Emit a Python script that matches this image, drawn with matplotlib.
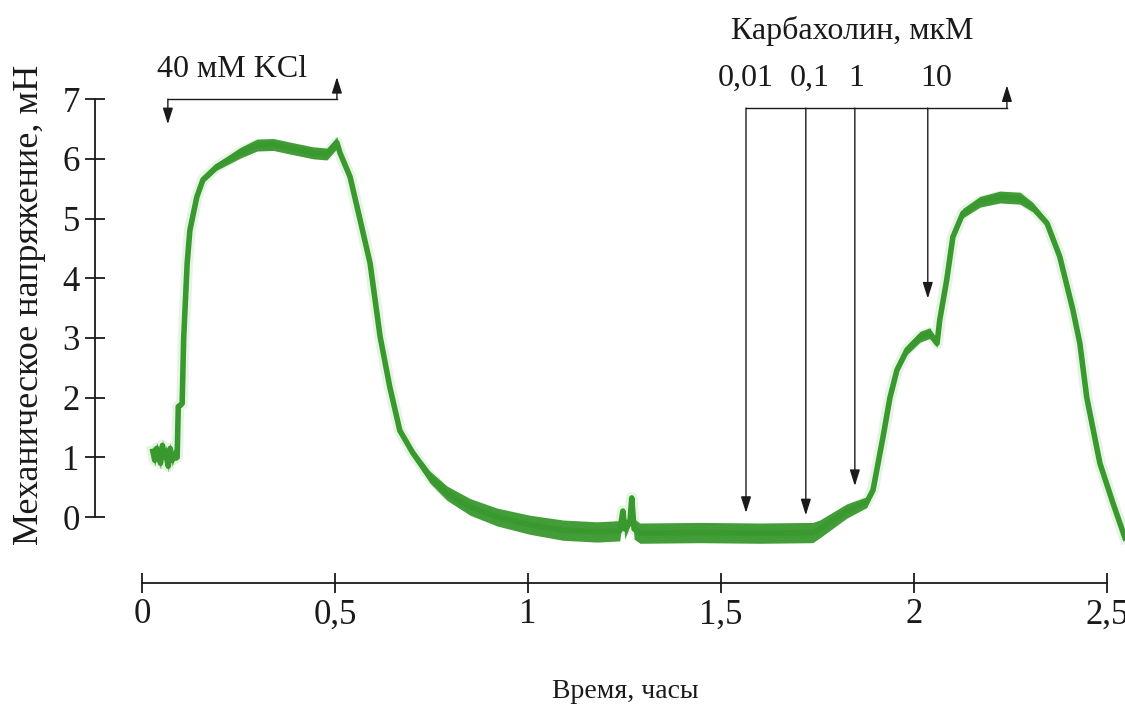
import matplotlib
matplotlib.use("Agg")
import matplotlib.pyplot as plt
import numpy as np

plt.rcParams['font.family'] = ['Liberation Serif', 'DejaVu Serif']

# ---- data (time in hours, tension in mN) ----
time_h = [0.028, 0.033, 0.038, 0.043, 0.048, 0.053, 0.058, 0.063, 0.068, 0.073,
          0.078, 0.083, 0.091, 0.094, 0.104, 0.108, 0.117, 0.124, 0.142, 0.158,
          0.194, 0.254, 0.298, 0.340, 0.383, 0.443, 0.479, 0.505, 0.513, 0.539,
          0.565, 0.591, 0.617, 0.642, 0.668, 0.702, 0.746, 0.790, 0.850, 0.920,
          1.005, 1.091, 1.179, 1.238, 1.246, 1.251, 1.264, 1.269, 1.275, 1.290,
          1.446, 1.601, 1.738, 1.756, 1.826, 1.878, 1.894, 1.920, 1.938, 1.956,
          1.982, 2.016, 2.041, 2.060, 2.067, 2.085, 2.101, 2.127, 2.171, 2.223,
          2.275, 2.308, 2.345, 2.378, 2.412, 2.430, 2.448, 2.482, 2.516, 2.547]
tension = [1.10, 0.95, 1.15, 1.05, 0.90, 1.20, 1.00, 1.10, 0.85, 1.15,
           0.95, 1.05, 1.00, 1.85, 1.90, 3.00, 4.25, 4.80, 5.36, 5.65,
           5.87, 6.10, 6.23, 6.24, 6.18, 6.10, 6.08, 6.27, 6.10, 5.70,
           4.98, 4.25, 3.02, 2.18, 1.45, 1.07, 0.67, 0.40, 0.17, 0.00,
           -0.13, -0.22, -0.25, -0.23, 0.10, -0.20, -0.10, 0.32, -0.20, -0.27,
           -0.26, -0.27, -0.26, -0.20, 0.10, 0.25, 0.45, 1.34, 2.00, 2.46,
           2.80, 3.02, 3.08, 2.91, 3.30, 3.97, 4.69, 5.09, 5.28, 5.36,
           5.34, 5.19, 4.92, 4.36, 3.47, 2.91, 2.00, 0.90, 0.23, -0.35]
# half-thickness of the recorded noise band (mN)
noise = [0.10, 0.10, 0.10, 0.10, 0.10, 0.10, 0.10, 0.10, 0.10, 0.10,
         0.10, 0.10, 0.05, 0.05, 0.05, 0.03, 0.03, 0.03, 0.04, 0.05,
         0.06, 0.09, 0.10, 0.10, 0.10, 0.10, 0.10, 0.10, 0.06, 0.05,
         0.04, 0.04, 0.04, 0.04, 0.05, 0.07, 0.10, 0.12, 0.14, 0.15,
         0.16, 0.17, 0.17, 0.17, 0.04, 0.17, 0.05, 0.04, 0.17, 0.17,
         0.17, 0.17, 0.17, 0.15, 0.12, 0.09, 0.05, 0.04, 0.04, 0.05,
         0.08, 0.09, 0.09, 0.07, 0.04, 0.04, 0.05, 0.08, 0.09, 0.10,
         0.10, 0.08, 0.06, 0.05, 0.04, 0.04, 0.04, 0.04, 0.05, 0.07]

x_ticks = [0, 0.5, 1, 1.5, 2, 2.5]
x_tick_labels = ["0", "0,5", "1", "1,5", "2", "2,5"]
y_ticks = [0, 1, 2, 3, 4, 5, 6, 7]
y_tick_labels = ["0", "1", "2", "3", "4", "5", "6", "7"]

kcl_label = "40 мМ KCl"
kcl_on, kcl_off = 0.067, 0.505
carb_title = "Карбахолин, мкМ"
carb_doses = ["0,01", "0,1", "1", "10"]
carb_times = [1.565, 1.720, 1.847, 2.036]
carb_arrow_tips = [0.07, 0.03, 0.52, 3.66]
carb_washout = 2.241

green = '#39992f'
ink = '#1a1a1a'

fig = plt.figure(figsize=(11.25, 7.19), dpi=100)
ax = fig.add_axes([95 / 1125, 1 - 583 / 719, 1030 / 1125, 583 / 719])
ax.set_xlim(-0.1218, 2.547)
ax.set_ylim(-1.105, 8.66)

t = np.array(time_h)
v = np.array(tension)
n = np.array(noise)
ax.plot(t, v, color='#b8e0b0', lw=8.5, alpha=0.35, zorder=1)
ax.fill_between(t, v - n, v + n, color=green, lw=0, alpha=0.95, zorder=2)
ax.plot(t, v, color=green, lw=4.0, solid_joinstyle='round', zorder=3)

# axes styling
for s in ['top', 'right']:
    ax.spines[s].set_visible(False)
ax.spines['left'].set_bounds(0, 7)
ax.spines['bottom'].set_bounds(0, 2.5)
for s in ['left', 'bottom']:
    ax.spines[s].set_linewidth(1.3)
    ax.spines[s].set_color(ink)
ax.set_xticks(x_ticks)
ax.set_xticklabels(x_tick_labels)
ax.set_yticks(y_ticks)
ax.set_yticklabels(y_tick_labels)
ax.tick_params(axis='both', direction='inout', length=14, width=1.3, color=ink,
               labelsize=25, labelcolor=ink)
ax.tick_params(axis='x', pad=4)
ax.tick_params(axis='y', pad=4)

ax.set_ylabel("Механическое напряжение, мН", fontsize=26, color=ink)
ax.yaxis.set_label_coords(-0.048, 0.477)
fig.text(625 / 1125, 1 - 692 / 719, "Время, часы", fontsize=20, color=ink,
         ha='center', va='center')

# annotations
lw_a = 1.0
astyle = '-|>,head_length=0.7,head_width=0.22'

def arrow(x, y0, y1):
    ax.annotate('', xy=(x, y1), xytext=(x, y0),
                arrowprops=dict(arrowstyle=astyle, color=ink, lw=lw_a,
                                shrinkA=0, shrinkB=0, mutation_scale=14))

# KCl
kcl_y = 7.0
ax.plot([kcl_on, kcl_off], [kcl_y, kcl_y], color=ink, lw=lw_a)
arrow(kcl_on, kcl_y, 6.58)
arrow(kcl_off, kcl_y, 7.37)
ax.text(0.039, 7.5, kcl_label, fontsize=23, color=ink, ha='left', va='center')

# Carbachol
cy = 6.85
ax.plot([carb_times[0], carb_washout], [cy, cy], color=ink, lw=lw_a)
for xt, tip in zip(carb_times, carb_arrow_tips):
    arrow(xt, cy, tip)
arrow(carb_washout, cy, 7.23)
label_x = [1.565, 1.731, 1.850, 2.057]
for lx, lab in zip(label_x, carb_doses):
    ax.text(lx, 7.35, lab, fontsize=23, color=ink, ha='center', va='center')
ax.text(1.839, 8.14, carb_title, fontsize=23, color=ink, ha='center', va='center')

fig.savefig('out.png', dpi=100, facecolor='white')
